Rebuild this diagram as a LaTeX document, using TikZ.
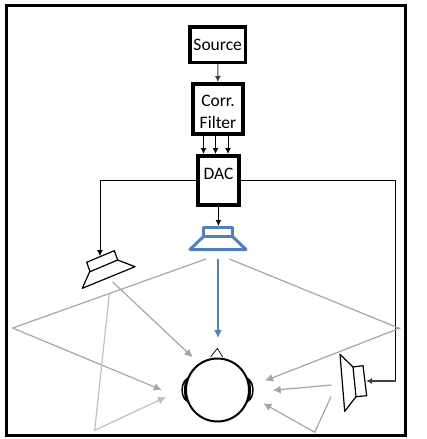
\documentclass[tikz,border=0pt]{standalone}
\usepackage{fontspec}
\setmainfont{Carlito}
\usetikzlibrary{arrows.meta}

\definecolor{pblue}{RGB}{79, 129, 189}
\definecolor{pgray}{RGB}{166, 166, 166}
\definecolor{plight}{RGB}{191, 191, 191}
\definecolor{darkgray}{RGB}{64, 64, 64}

\tikzset{
    blockbox/.style = {
        draw          = black,
        fill          = white,
        inner sep     = 0pt,
        align         = center,
        font          = \fontsize{17.5pt}{22pt}\selectfont
    },
    signal/.style  = {-{Latex[length=6pt,width=6pt]}, line width = 1pt},
    reflect/.style = {-{Latex[length=8pt,width=8pt]}, draw = pgray, line width = 1.2pt},
    speaker/.style = {draw = black, line width = 1.2pt, line join = round}
}

\begin{document}
\begin{tikzpicture}[x=1pt, y=-1pt]
    \useasboundingbox (0,0) rectangle (427,439);
    \fill[white] (0,0) rectangle (427,439);
    \draw[line width = 3pt] (6.5,5.5) rectangle (405.5,435.5);

    % blocks
    \node[blockbox, line width = 3.5pt, minimum width = 55.5pt, minimum height = 35.5pt] (source) at (217.7,44.7) {Source};
    \node[blockbox, line width = 4pt, minimum width = 50pt, minimum height = 50pt] (corr) at (218,109) {\rule{0pt}{17pt}Corr.\\Filter};
    \node[blockbox, line width = 4pt, minimum width = 41pt, minimum height = 49pt] (dac) at (218.5,180.5) {DAC\\[-15pt]\strut};

    % speakers
    \draw[draw = pblue, line width = 3pt, line join = round] (203.5,227.5) rectangle (232.5,236);
    \draw[draw = pblue, line width = 3pt, line join = round] (203,237) -- (190,249.5) -- (246,249.5) -- (233,237);
    \draw[speaker] (86.7,262.3) -- (114.3,250.7) -- (117.7,260) -- (90,271.7) -- cycle;
    \draw[speaker] (90,271) -- (82.3,288.3) -- (135,266.7) -- (117.7,260);
    \draw[speaker] (353,367) -- (363,365.7) -- (366.7,395.7) -- (356,396.7) -- cycle;
    \draw[speaker] (353,367) -- (340,354.3) -- (344.7,411.3) -- (356,396.7);

    \coordinate (frontin) at (218.5,226);
    \coordinate (leftin)  at (100,256);
    \coordinate (rightin) at (366,381);
    \coordinate (rightbend) at (395.5,381);

    % wiring
    \draw[signal, draw = darkgray] (source) -- (corr);
    \draw[signal] ([xshift=-14.5pt]corr.south) -- ([xshift=-15pt]dac.north);
    \draw[signal] ([xshift=-2.5pt]corr.south) -- ([xshift=-3pt]dac.north);
    \draw[signal] ([xshift=10pt]corr.south) -- ([xshift=9.5pt]dac.north);
    \draw[signal, line width = 1.3pt] (dac) -- (frontin);
    \draw[signal, line width = 0.8pt] (dac.west) -- (leftin |- dac.west) -- (leftin);
    \draw[line width = 0.8pt] (dac.east) -- (rightbend |- dac.east) -- (rightbend);
    \draw[signal, draw = darkgray, line width = 1.5pt] (rightbend) -- (rightin);

    % head
    \draw[line width = 2pt, fill = white] (217.5,390) circle (31.5pt);
    \draw[line width = 0.7pt] (210.7,357) -- (217.3,348.3) -- (222.7,357);
    \draw[line width = 1.5pt] (187,379) .. controls (180.5,382) and (180.5,398) .. (187,401) .. controls (184,397) and (184,383) .. cycle;
    \draw[line width = 1.5pt] (248,379) .. controls (254.5,382) and (254.5,398) .. (248,401) .. controls (251,397) and (251,383) .. cycle;

    % direct and reflected paths
    \coordinate (wallw) at (12.7,328);
    \coordinate (walle) at (399.3,328.3);
    \coordinate (floorw) at (94.7,430.3);
    \coordinate (floore) at (314.7,432.3);
    \draw[reflect] (206,259) -- (wallw) -- (161.7,390);
    \draw[reflect] (229.3,259) -- (walle) -- (265,380.7);
    \draw[reflect] (112.7,282) -- (192.7,357.3);
    \draw[reflect, draw = plight] (109.3,294) -- (floorw) -- (166,397);
    \draw[reflect] (331.7,385) -- (272.7,390.3);
    \draw[reflect] (331,396.7) -- (floore) -- (263.3,403.3);
    \draw[-{Latex[length=8pt,width=8pt]}, draw = pblue, line width = 1.8pt] (218,259) -- (218,338);
\end{tikzpicture}
\end{document}
